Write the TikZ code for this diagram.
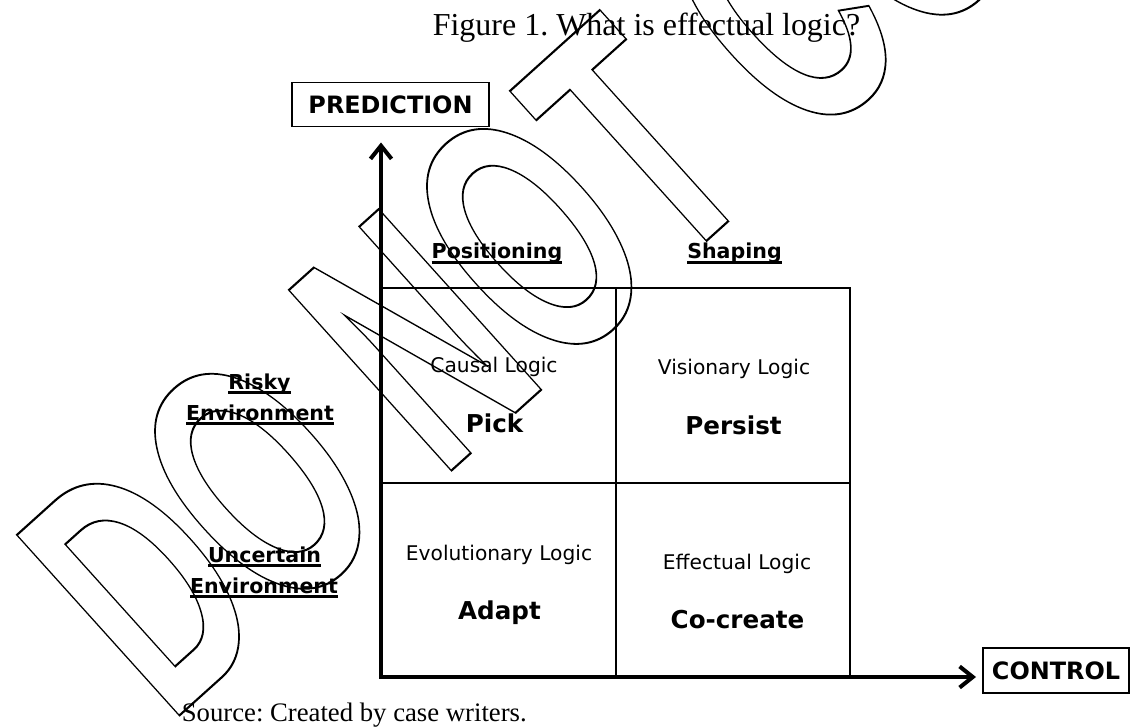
\documentclass[tikz,border=0pt]{standalone}
\usepackage{fontspec}
\setmainfont{Liberation Serif}
\newfontfamily\comicfont{DejaVu Sans}
\newfontfamily\stampfont{Liberation Sans}
\usepackage{tikz}
\usetikzlibrary{arrows.meta, positioning}
\frenchspacing

% underline drawn as a thick rule below the baseline
\newcommand{\undertext}[1]{\setbox0\hbox{#1}\rlap{\vrule height -1.4pt depth 3.1pt width \wd0}\box0}
% stroke only the glyph outlines
\newcommand{\outlinetext}[1]{\special{pdf:literal direct 1 Tr 0.6 w}#1\special{pdf:literal direct 0 Tr}}

\begin{document}
\begin{tikzpicture}[
    axisbox/.style={draw, line width=1.1pt, inner sep=0pt, font=\comicfont\bfseries\fontsize{13.6}{16}\selectfont},
    headlabel/.style={anchor=base, inner sep=0pt, font=\comicfont\bfseries\fontsize{11.7}{14}\selectfont},
    logicname/.style={anchor=base, inner sep=0pt, font=\comicfont\fontsize{11.5}{14}\selectfont},
    logicverb/.style={anchor=base, inner sep=0pt, font=\comicfont\bfseries\fontsize{14}{17}\selectfont},
    gridline/.style={line width=1.3pt},
    axis/.style={line width=2.3pt, {Straight Barb[length=7.5pt,width=12pt]}-{Straight Barb[length=7.5pt,width=12pt]}}
]
    \useasboundingbox (0,0) rectangle (22.6,14.54);

    % Title and source
    \node[anchor=base, font=\fontsize{18.2}{22}\selectfont] (title) at (12.93,13.83) {Figure 1. What is effectual logic?};
    \node[anchor=base west, inner sep=0pt, font=\fontsize{15.2}{18}\selectfont] (source) at (3.63,0.106) {Source: Created by case writers.};

    % Axis labels
    \node[axisbox, minimum width=3.94cm, minimum height=0.88cm] (prediction) at (7.81,12.45) {PREDICTION};
    \node[axisbox, minimum width=2.92cm, minimum height=0.9cm] (control) at (21.12,1.13) {CONTROL};

    % Grid
    \coordinate (origin) at (7.62,1.0);
    \draw[gridline] (origin) rectangle (17.0,8.78);
    \draw[gridline] (12.32,1.0) -- (12.32,8.78);
    \draw[gridline] (7.62,4.88) -- (17.0,4.88);

    % Axes
    \draw[axis, shorten <=0.3cm, shorten >=0.12cm] (origin |- prediction.south) -- (origin) -- (origin -| control.west);

    % Column labels
    \node[headlabel] (positioning) at (9.94,9.36) {\undertext{Positioning}};
    \node[headlabel] (shaping) at (14.69,9.36) {\undertext{Shaping}};

    % Row labels
    \node[headlabel] (risky) at (5.19,6.76) {\undertext{Risky}};
    \node[headlabel] (riskyenv) at (5.2,6.14) {\undertext{Environment}};
    \node[headlabel] (uncertain) at (5.29,3.30) {\undertext{Uncertain}};
    \node[headlabel] (uncertainenv) at (5.28,2.68) {\undertext{Environment}};

    % Cells
    \node[logicname] (causal) at (9.88,7.09) {Causal Logic};
    \node[logicverb] (pick) at (9.89,5.90) {Pick};
    \node[logicname] (visionary) at (14.68,7.06) {Visionary Logic};
    \node[logicverb] (persist) at (14.67,5.86) {Persist};
    \node[logicname] (evolutionary) at (9.98,3.34) {Evolutionary Logic};
    \node[logicverb] (adapt) at (9.99,2.15) {Adapt};
    \node[logicname] (effectual) at (14.74,3.15) {Effectual Logic};
    \node[logicverb] (cocreate) at (14.75,1.97) {Co-create};

    % Watermark
    \begin{scope}[shift={(3.376,0.04)}, rotate=42, xscale=1.172, yscale=2.009]
        \node[anchor=base west, inner sep=0pt, transform shape, font=\stampfont\bfseries\fontsize{100}{100}\selectfont] (stamp) at (0,0) {\outlinetext{DO NOT COPY}};
    \end{scope}
\end{tikzpicture}
\end{document}
